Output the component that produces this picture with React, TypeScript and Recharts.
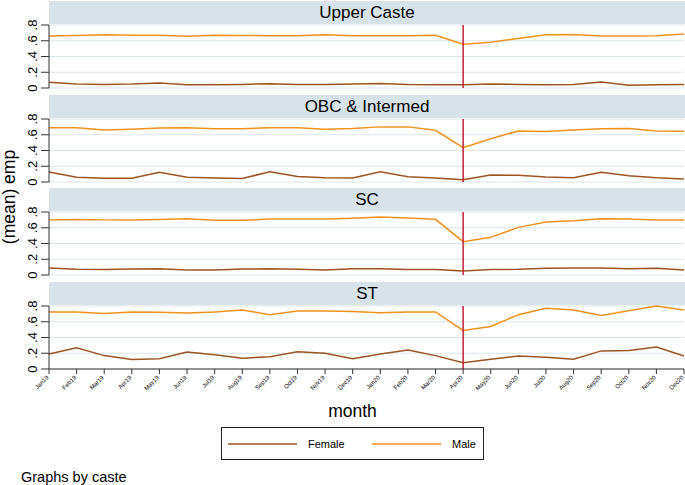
import React from "react";
import {
  LineChart,
  Line,
  XAxis,
  YAxis,
  CartesianGrid,
  ReferenceLine,
} from "recharts";

const months = [
  "Jan19", "Feb19", "Mar19", "Apr19", "May19", "Jun19",
  "Jul19", "Aug19", "Sep19", "Oct19", "Nov19", "Dec19",
  "Jan20", "Feb20", "Mar20", "Apr20", "May20", "Jun20",
  "Jul20", "Aug20", "Sep20", "Oct20", "Nov20", "Dec20",
];

const castes = ["Upper Caste", "OBC & Intermed", "SC", "ST"];
const seriesNames = ["Female", "Male"];
const yTicks = [0, 0.2, 0.4, 0.6, 0.8];
const lockdownMonth = "Apr20";

// (mean) emp by month
const upperFemale = [0.072, 0.05, 0.045, 0.05, 0.063, 0.04, 0.042, 0.045, 0.055, 0.045, 0.045, 0.05, 0.058, 0.045, 0.04, 0.042, 0.052, 0.045, 0.04, 0.045, 0.076, 0.035, 0.04, 0.045];
const upperMale = [0.66, 0.668, 0.675, 0.67, 0.67, 0.658, 0.67, 0.668, 0.665, 0.665, 0.675, 0.665, 0.665, 0.665, 0.67, 0.555, 0.58, 0.63, 0.675, 0.68, 0.66, 0.66, 0.665, 0.685];
const obcFemale = [0.127, 0.06, 0.047, 0.047, 0.123, 0.06, 0.05, 0.045, 0.13, 0.07, 0.055, 0.05, 0.13, 0.067, 0.05, 0.03, 0.089, 0.085, 0.063, 0.055, 0.123, 0.08, 0.055, 0.038];
const obcMale = [0.69, 0.69, 0.66, 0.67, 0.685, 0.69, 0.675, 0.675, 0.69, 0.69, 0.67, 0.68, 0.7, 0.7, 0.656, 0.436, 0.55, 0.648, 0.64, 0.66, 0.677, 0.68, 0.648, 0.645];
const scFemale = [0.089, 0.072, 0.07, 0.075, 0.08, 0.065, 0.065, 0.075, 0.078, 0.072, 0.065, 0.08, 0.08, 0.07, 0.07, 0.05, 0.07, 0.072, 0.085, 0.09, 0.088, 0.08, 0.085, 0.064];
const scMale = [0.7, 0.705, 0.7, 0.7, 0.705, 0.713, 0.695, 0.695, 0.71, 0.712, 0.71, 0.72, 0.735, 0.725, 0.707, 0.423, 0.478, 0.605, 0.673, 0.69, 0.715, 0.71, 0.7, 0.7];
const stFemale = [0.19, 0.27, 0.17, 0.12, 0.13, 0.215, 0.18, 0.137, 0.157, 0.22, 0.2, 0.13, 0.19, 0.24, 0.17, 0.08, 0.125, 0.165, 0.15, 0.125, 0.23, 0.235, 0.28, 0.165];
const stMale = [0.725, 0.725, 0.704, 0.725, 0.72, 0.71, 0.725, 0.75, 0.69, 0.735, 0.735, 0.73, 0.713, 0.725, 0.725, 0.49, 0.54, 0.69, 0.77, 0.75, 0.68, 0.74, 0.8, 0.75];

const femaleByCaste = [upperFemale, obcFemale, scFemale, stFemale];
const maleByCaste = [upperMale, obcMale, scMale, stMale];

const FEMALE = "#9c5520";
const MALE = "#f0921e";
const VLINE = "#c41e3a";
const STRIP = "#d8e3e9";
const GRID = "#dbe6ea";
const AXIS = "#333";
const FONT = "'Liberation Sans', Arial, Helvetica, sans-serif";
const colors = [FEMALE, MALE];

const W = 685;
const PANEL_STEP = 93.7;
const STRIP_H = 23;
const PLOT_H = 63;
const PAD = 8; // room above/below plot so the rotated y labels are not cut

function fmtY(v: number) {
  return v === 0 ? "0" : String(v).replace(/^0/, "");
}

function YTick(props: any) {
  const { x, y, payload } = props;
  return (
    <text
      x={x}
      y={y}
      transform={`rotate(-90, ${x}, ${y})`}
      textAnchor="middle"
      fontSize={13}
      fontFamily={FONT}
      fill="#000"
    >
      {fmtY(payload.value)}
    </text>
  );
}

function XTick(props: any) {
  const { x, y, payload } = props;
  const tx = x;
  const ty = y + 2;
  return (
    <text
      x={tx}
      y={ty}
      transform={`rotate(-45, ${tx}, ${ty})`}
      textAnchor="end"
      fontSize={6}
      fontFamily={FONT}
      fill="#000"
    >
      {payload.value}
    </text>
  );
}

function Panel({ index }: { index: number }) {
  const top = Math.round(1 + index * PANEL_STEP);
  const last = index === castes.length - 1;
  const data = months.map((m, i) => ({
    month: m,
    Female: femaleByCaste[index][i],
    Male: maleByCaste[index][i],
  }));
  return (
    <>
      <div
        style={{
          position: "absolute",
          left: 49,
          top,
          width: W - 49,
          height: STRIP_H,
          background: STRIP,
          fontFamily: FONT,
          fontSize: 17,
          lineHeight: `${STRIP_H}px`,
          textAlign: "center",
          color: "#000",
        }}
      >
        {castes[index]}
      </div>
      <div style={{ position: "absolute", left: 0, top: top + STRIP_H + 1 - PAD }}>
        <LineChart
          width={W}
          height={PAD + PLOT_H + (last ? 30 : PAD)}
          data={data}
          margin={{ top: PAD, right: 1, left: 0, bottom: last ? 0 : PAD }}
        >
          <CartesianGrid horizontal vertical={false} stroke={GRID} strokeWidth={1} />
          <XAxis
            dataKey="month"
            hide={!last}
            height={30}
            interval={0}
            tickSize={5}
            tickMargin={2}
            stroke={AXIS}
            tickLine={{ stroke: AXIS }}
            tick={<XTick />}
          />
          <YAxis
            domain={[0, 0.8]}
            ticks={yTicks}
            interval={0}
            width={49}
            tickSize={8}
            tickMargin={4}
            stroke={AXIS}
            tickLine={{ stroke: AXIS }}
            tick={<YTick />}
          />
          {seriesNames.map((s, k) => (
            <Line
              key={s}
              type="linear"
              dataKey={s}
              stroke={colors[k]}
              strokeWidth={1.5}
              dot={false}
              isAnimationActive={false}
            />
          ))}
          <ReferenceLine x={lockdownMonth} stroke={VLINE} strokeWidth={1.5} />
        </LineChart>
      </div>
    </>
  );
}

export default function App() {
  return (
    <div
      style={{
        position: "absolute",
        left: 0,
        top: 0,
        width: W,
        height: 485,
        background: "#fff",
        overflow: "hidden",
      }}
    >
      {castes.map((c, i) => (
        <Panel key={c} index={i} />
      ))}
      <svg
        width={W}
        height={485}
        style={{ position: "absolute", left: 0, top: 0, pointerEvents: "none" }}
        fontFamily={FONT}
      >
        <text
          x={15}
          y={197}
          transform="rotate(-90, 15, 197)"
          textAnchor="middle"
          fontSize={17.5}
          fill="#000"
        >
          (mean) emp
        </text>
        <text x={352.5} y={417} textAnchor="middle" fontSize={17.5} fill="#000">
          month
        </text>
        <rect x={221.5} y={427.5} width={262} height={32} fill="#fff" stroke="#222" strokeWidth={1} />
        {seriesNames.map((s, k) => (
          <g key={s}>
            <line x1={228 + k * 144} x2={297 + k * 144} y1={444} y2={444} stroke={colors[k]} strokeWidth={1.5} />
            <text x={308 + k * 144} y={448} fontSize={11} fill="#000">
              {s}
            </text>
          </g>
        ))}
        <text x={21} y={482} fontSize={14.5} fill="#000">
          Graphs by caste
        </text>
      </svg>
    </div>
  );
}
